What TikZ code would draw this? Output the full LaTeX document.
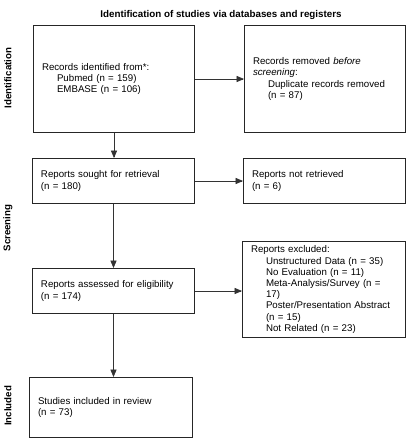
\documentclass[tikz,border=0pt]{standalone}
\usepackage{fontspec}
\setmainfont{Liberation Sans}
\usepackage{tikz}
\usetikzlibrary{arrows}
\newcommand{\indnt}{\hspace*{15pt}}
\tikzset{
  box/.style={draw=black!85, line width=1pt, inner xsep=8.5pt, inner ysep=0pt, align=left, anchor=north west, font=\fontsize{9.7}{11.2}\selectfont},
  phase/.style={rotate=90, font=\bfseries\fontsize{9.7}{11}\selectfont},
  flow/.style={draw=black!80, line width=0.7pt, -triangle 45},
}

\begin{document}
\begin{tikzpicture}[x=1pt,y=1pt,yscale=-1,xscale=1]
\useasboundingbox (0,0) rectangle (408,440);

% Text Node
\node (title) at (221,15) [font=\bfseries\fontsize{9.8}{12}\selectfont] {Identification of studies via databases and registers};

% Text Node
\node (identlab) at (8,78) [phase] {Identification};
% Text Node
\node (screenlab) at (8,228) [phase] {Screening};
% Text Node
\node (incllab) at (8,406) [phase] {Included};

%Shape: Rectangle
\node (rec) at (33,25) [box, minimum width=161pt, minimum height=107pt, text width=144pt] {Records identified from*:\\ \indnt Pubmed (n = 159)\\ \indnt EMBASE (n = 106)};
%Shape: Rectangle
\node (dup) at (244,25) [box, minimum width=161pt, minimum height=107pt, text width=144pt] {Records removed \textit{before}\\ \textit{screening}:\\ \indnt Duplicate records removed\\ \indnt (n = 87)};
%Shape: Rectangle
\node (sought) at (32,158) [box, minimum width=162pt, minimum height=45pt, text width=145pt] {Reports sought for retrieval\\ (n = 180)};
%Shape: Rectangle
\node (notret) at (243,158) [box, minimum width=162pt, minimum height=45pt, text width=145pt] {Reports not retrieved\\ (n = 6)};
%Shape: Rectangle
\node (elig) at (32,268) [box, minimum width=162pt, minimum height=45pt, text width=145pt] {Reports assessed for eligibility\\ (n = 174)};
%Shape: Rectangle
\node (excl) at (242,241) [box, minimum width=163pt, minimum height=96pt, text width=146pt] {Reports excluded:\\ \indnt Unstructured Data (n = 35)\\ \indnt No Evaluation (n = 11)\\ \indnt Meta-Analysis/Survey (n =\\ \indnt 17)\\ \indnt Poster/Presentation Abstract\\ \indnt (n = 15)\\ \indnt Not Related (n = 23)};
%Shape: Rectangle
\node (incl) at (29,377) [box, minimum width=163pt, minimum height=60pt, text width=146pt] {Studies included in review\\ (n = 73)};

%Straight Lines
\draw [flow] (rec.east) -- (dup.west);
\draw [flow] (rec.south) -- (rec.south |- sought.north);
\draw [flow] (sought.east) -- (notret.west);
\draw [flow] (sought.south) -- (sought.south |- elig.north);
\draw [flow] (elig.east) -- (elig.east -| excl.west);
\draw [flow] (elig.south) -- (elig.south |- incl.north);

\end{tikzpicture}
\end{document}
